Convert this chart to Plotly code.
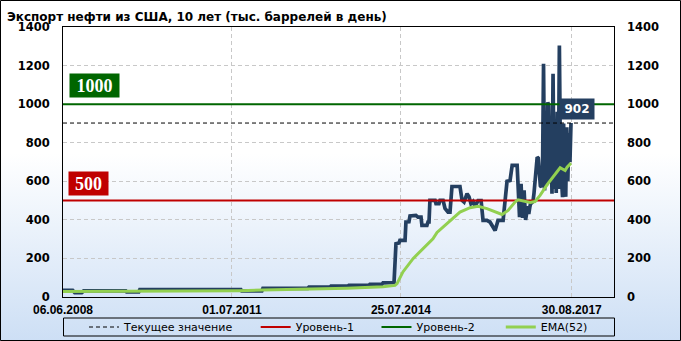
import base64
import plotly.graph_objects as go

# ---------------- data ----------------
main_dates = [
    "2008-06-06", "2008-08-09", "2008-08-23", "2008-10-08", "2008-10-21", "2009-07-27",
    "2009-08-02", "2009-10-21", "2009-10-28", "2011-08-29", "2011-09-04", "2012-01-15",
    "2012-01-22", "2012-11-15", "2012-11-22", "2013-04-10", "2013-04-17", "2013-08-07",
    "2013-08-14", "2013-12-25", "2013-12-31", "2014-03-21", "2014-03-28", "2014-06-09",
    "2014-06-22", "2014-07-12", "2014-07-18", "2014-08-21", "2014-08-27", "2014-09-16",
    "2014-09-23", "2014-11-01", "2014-11-15", "2014-12-05", "2014-12-11", "2015-01-13",
    "2015-01-20", "2015-01-27", "2015-02-02", "2015-03-08", "2015-03-14", "2015-04-03",
    "2015-04-10", "2015-04-30", "2015-05-13", "2015-06-02", "2015-06-15", "2015-06-28",
    "2015-08-20", "2015-09-03", "2015-09-16", "2015-10-06", "2015-10-19", "2015-11-01",
    "2015-11-15", "2015-11-28", "2015-12-18", "2016-01-07", "2016-01-20", "2016-02-15",
    "2016-03-06", "2016-03-20", "2016-04-09", "2016-04-22", "2016-04-28", "2016-06-01",
    "2016-06-14", "2016-06-27", "2016-07-17", "2016-07-31", "2016-09-02", "2016-09-08",
    "2016-09-18", "2016-09-28", "2016-10-08", "2016-10-18", "2016-10-28",
    "2016-11-11", "2016-11-18", "2016-11-25", "2016-12-02", "2016-12-09", "2016-12-16",
    "2016-12-23", "2016-12-30", "2017-01-06", "2017-01-13", "2017-01-20", "2017-01-27",
    "2017-02-03", "2017-02-10", "2017-02-17", "2017-02-24", "2017-03-03", "2017-03-10",
    "2017-03-17", "2017-03-24", "2017-03-31", "2017-04-07", "2017-04-14", "2017-04-21",
    "2017-04-28", "2017-05-05", "2017-05-12", "2017-05-19", "2017-05-26", "2017-06-02",
    "2017-06-09", "2017-06-16", "2017-06-23", "2017-06-30", "2017-07-07", "2017-07-14",
    "2017-07-21", "2017-07-28", "2017-08-04", "2017-08-11", "2017-08-18", "2017-08-25",
]
main_values = [
    35, 35, 22, 22, 32, 32,
    26, 26, 38, 38, 31, 31,
    45, 45, 51, 51, 56, 56,
    61, 61, 66, 66, 73, 75,
    276, 280, 294, 294, 389, 390,
    420, 423, 414, 414, 371, 371,
    389, 389, 501, 501, 484, 484,
    501, 501, 459, 440, 440, 573,
    573, 501, 492, 536, 520, 484,
    495, 470, 500, 500, 397, 397,
    389, 370, 345, 380, 397, 397,
    501, 600, 604, 682, 682, 600,
    414, 587, 410, 553, 400,
    470, 430, 466, 492, 490, 495,
    540, 596, 640, 725, 720, 600,
    577, 570, 620, 1209, 553, 800,
    580, 1010, 990, 600, 900, 536,
    1157, 560, 820, 540, 960, 560,
    1304, 700, 560, 518, 900, 560,
    520, 880, 600, 850, 700, 902,
]

ema_dates = [
    "2008-06-06", "2009-07-20", "2011-08-22", "2012-01-22", "2012-11-28", "2013-08-01",
    "2014-03-28", "2014-06-16", "2014-06-29", "2014-08-07", "2014-10-13", "2014-12-18",
    "2015-02-22", "2015-03-21", "2015-04-30", "2015-07-06", "2015-08-20", "2015-10-26",
    "2015-12-18", "2016-02-15", "2016-04-09", "2016-05-25", "2016-07-04", "2016-08-19",
    "2016-09-08", "2016-10-11", "2016-11-27", "2016-12-30", "2017-02-01", "2017-03-20",
    "2017-04-28", "2017-06-01", "2017-06-14", "2017-07-17", "2017-07-30", "2017-08-25",
]
ema_values = [
    28, 29, 33, 36, 40, 46,
    53, 60, 69, 130, 199, 251,
    302, 335, 363, 406, 440, 463,
    470, 458, 440, 428, 449, 492,
    504, 497, 490, 495, 527, 583,
    622, 656, 670, 656, 673, 694,
]

current_value = 902
level1 = 500
level2 = 1000
x_range = ["2008-06-06", "2018-06-06"]
x_tick_dates = ["2008-06-06", "2011-07-01", "2014-07-25", "2017-08-30"]
x_tick_labels = ["06.06.2008", "01.07.2011", "25.07.2014", "30.08.2017"]
y_ticks = [0, 200, 400, 600, 800, 1000, 1200, 1400]

title_text = "Экспорт нефти из США, 10 лет (тыс. баррелей в день)"
legend_names = ["Текущее значение", "Уровень-1", "Уровень-2", "EMA(52)"]

# ---------------- layout geometry (pixels) ----------------
W, H = 681, 341
PL, PR, PT, PB = 63, 614, 27, 297


def xp(px):
    return (px - PL) / (PR - PL)


def yp(py):
    return (PB - py) / (PB - PT)


NAVY = "#243F60"
RED = "#C00000"
GREEN = "#006600"
LIME = "#92D050"
GRID = "#c8c8c8"
GRAD = "linear-gradient(to bottom, #ffffff 0%, #ffffff 45%, #cddff5 100%)"

nb = "\u00a0"

fig = go.Figure()
fig.add_trace(go.Scatter(x=main_dates, y=main_values, mode="lines",
                         line=dict(color=NAVY, width=3.7), showlegend=False,
                         hoverinfo="skip"))
fig.add_trace(go.Scatter(x=x_range, y=[level1, level1], mode="lines",
                         name=legend_names[1] + nb * 5, legendrank=2,
                         line=dict(color=RED, width=2), hoverinfo="skip"))
fig.add_trace(go.Scatter(x=x_range, y=[level2, level2], mode="lines",
                         name=legend_names[2] + nb * 6, legendrank=3,
                         line=dict(color=GREEN, width=2), hoverinfo="skip"))
fig.add_trace(go.Scatter(x=ema_dates, y=ema_values, mode="lines",
                         name=legend_names[3], legendrank=4,
                         line=dict(color=LIME, width=3), hoverinfo="skip"))
fig.add_trace(go.Scatter(x=x_range, y=[current_value, current_value], mode="lines",
                         name=legend_names[0] + nb * 5, legendrank=1, yaxis="y2",
                         line=dict(color="black", width=1, dash="4px,3px"),
                         hoverinfo="skip"))

# background gradient (white -> light blue) as an SVG image
svg = (
    f"<svg xmlns='http://www.w3.org/2000/svg' width='{W}' height='{H}' "
    f"viewBox='0 0 {W} {H}' preserveAspectRatio='none'>"
    "<defs><linearGradient id='g' x1='0' y1='0' x2='0' y2='1'>"
    "<stop offset='0' stop-color='#ffffff'/>"
    "<stop offset='0.45' stop-color='#ffffff'/>"
    "<stop offset='1' stop-color='#cddff5'/>"
    "</linearGradient></defs>"
    f"<rect x='0' y='0' width='{W}' height='{H}' fill='url(#g)'/></svg>"
)
bg_src = "data:image/svg+xml;base64," + base64.b64encode(svg.encode()).decode()

images = [dict(source=bg_src, xref="paper", yref="paper", x=xp(0), y=yp(0),
               sizex=W / (PR - PL), sizey=H / (PB - PT), xanchor="left", yanchor="top",
               sizing="stretch", layer="below")]

shapes = [
    dict(type="rect", xref="paper", yref="paper",
         x0=xp(0.5), x1=xp(W - 0.5), y0=yp(0.5), y1=yp(H - 0.5),
         line=dict(color="black", width=1), layer="above"),
    dict(type="rect", xref="paper", yref="paper",
         x0=xp(63.5), x1=xp(614.5), y0=yp(318), y1=yp(336),
         line=dict(color="black", width=1), layer="above"),
]

annotations = [
    dict(text="1000", xref="paper", yref="paper", x=xp(94.5), y=yp(85.7),
         xanchor="center", yanchor="middle", showarrow=False,
         bgcolor=GREEN, width=47, height=21, borderpad=1,
         font=dict(family="Liberation Serif", size=18, color="white", weight="bold")),
    dict(text="500", xref="paper", yref="paper", x=xp(88.5), y=yp(183.3),
         xanchor="center", yanchor="middle", showarrow=False,
         bgcolor=RED, width=37, height=21, borderpad=1,
         font=dict(family="Liberation Serif", size=18, color="white", weight="bold")),
    dict(text=str(current_value), xref="paper", yref="paper", x=xp(577), y=yp(109),
         xanchor="center", yanchor="middle", showarrow=False,
         bgcolor=NAVY, width=32, height=18, borderpad=1,
         font=dict(family="DejaVu Sans", size=12, color="white", weight="bold")),
]

tickfont = dict(family="DejaVu Sans", size=11.5, color="black", weight="bold")

fig.update_layout(
    width=W, height=H, autosize=False,
    margin=dict(l=PL, r=W - PR, t=PT, b=H - PB, pad=0, autoexpand=False),
    paper_bgcolor="rgba(0,0,0,0)", plot_bgcolor="rgba(0,0,0,0)",
    hovermode=False,
    title=dict(text=title_text, x=7 / W, xanchor="left", y=1 - 16.5 / H,
               yanchor="middle", xref="container", yref="container",
               font=dict(family="DejaVu Sans", size=12, color="black", weight="bold")),
    xaxis=dict(type="date", range=x_range, tickvals=x_tick_dates, ticktext=x_tick_labels,
               showgrid=True, gridcolor=GRID, griddash="4px,3px", gridwidth=1,
               showline=True, linecolor="black", linewidth=1, mirror=True,
               ticks="", ticklabelstandoff=2,
               tickfont=dict(family="Liberation Sans", size=12, color="black", weight="bold")),
    yaxis=dict(range=[0, 1400], tickvals=y_ticks, showgrid=True, gridcolor=GRID,
               griddash="4px,3px", gridwidth=1, zeroline=False,
               showline=True, linecolor="black", linewidth=1, mirror=True,
               ticks="", ticklabelstandoff=10, tickfont=tickfont),
    yaxis2=dict(range=[0, 1400], tickvals=y_ticks, overlaying="y", side="right",
                showgrid=False, zeroline=False, showline=False,
                ticks="", ticklabelstandoff=12, tickfont=tickfont),
    legend=dict(orientation="h", x=xp(84), xanchor="left", y=yp(327), yanchor="middle",
                bgcolor="rgba(0,0,0,0)", borderwidth=0, traceorder="normal",
                font=dict(family="DejaVu Sans", size=11, color="black")),
    images=images,
    shapes=shapes,
    annotations=annotations,
)

post = (
    "var d=document.getElementById('{plot_id}');"
    f"d.style.background='{GRAD}';"
    "document.body.style.margin='0';"
)
fig.write_html("out.html", post_script=post)
